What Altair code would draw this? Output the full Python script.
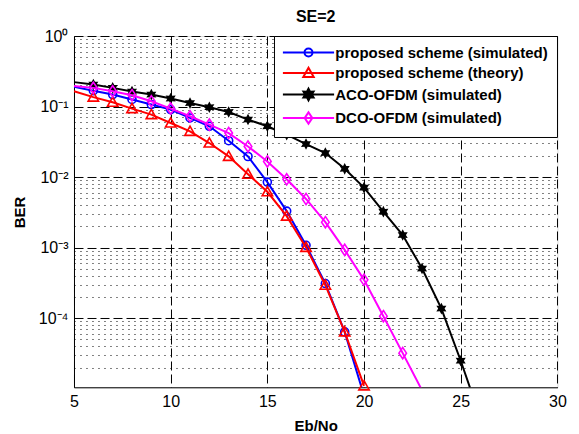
import altair as alt
import pandas as pd
import math

# ---------------- data ----------------
names = ["proposed scheme (simulated)", "proposed scheme (theory)",
         "ACO-OFDM (simulated)", "DCO-OFDM (simulated)"]
colors = ["#0000ff", "#ff0000", "#000000", "#ff00ff"]

x_prop = [5, 6, 7, 8, 9, 10, 11, 12, 13, 14, 15, 16, 17, 18, 19, 20]
ber_prop_sim = [0.19, 0.168, 0.148, 0.126, 0.107, 0.0906, 0.069, 0.0525, 0.0328,
                0.0196, 0.0085, 0.0033, 0.00108, 3.1e-4, 6.4e-5, 8e-6]
ber_prop_th = [0.165, 0.136, 0.115, 0.0936, 0.0769, 0.0585, 0.0445, 0.0304, 0.0197,
               0.011, 0.0062, 0.0028, 0.00101, 2.94e-4, 6.4e-5, 1.1e-5]
x_aco = [5, 6, 7, 8, 9, 10, 11, 12, 13, 14, 15, 16, 17, 18, 19, 20, 21, 22, 23, 24, 25, 26]
ber_aco = [0.222, 0.205, 0.184, 0.163, 0.148, 0.130, 0.112, 0.098, 0.0838, 0.0654,
           0.0525, 0.0399, 0.0294, 0.0219, 0.0131, 0.0071, 0.00324, 0.00151,
           5.06e-4, 1.37e-4, 2.5e-5, 4e-6]
x_dco = [5, 6, 7, 8, 9, 10, 11, 12, 13, 14, 15, 16, 17, 18, 19, 20, 21, 22, 23]
ber_dco = [0.195, 0.184, 0.165, 0.145, 0.119, 0.0936, 0.0728, 0.0555, 0.0421, 0.0272,
           0.0167, 0.0093, 0.0049, 0.0023, 9.3e-4, 3.5e-4, 1.07e-4, 3.2e-5, 9.5e-6]

x_ticks = [5, 10, 15, 20, 25, 30]
y_decades = [1e-4, 1e-3, 1e-2, 1e-1, 1e0]
y_minor = [m * 10.0 ** k for k in range(-5, 0) for m in range(2, 10)]
y_min, y_max = 1.05e-5, 1.0

series = [
    (names[0], x_prop, ber_prop_sim),
    (names[1], x_prop, ber_prop_th),
    (names[2], x_aco, ber_aco),
    (names[3], x_dco, ber_dco),
]

# ---------------- marker paths (unit coords) ----------------
circle = "M0,-1A1,1,0,1,1,0,1A1,1,0,1,1,0,-1Z"
triangle = "M0,-1.3L1.3,1L-1.3,1Z"
diamond = "M0,-1.4L0.95,0L0,1.4L-0.95,0Z"
pts = []
for k in range(12):
    r = 1.45 if k % 2 == 0 else 0.8
    a = math.radians(-90 + 30 * k)
    pts.append(f"{r*math.cos(a):.3f},{r*math.sin(a):.3f}")
star = "M" + "L".join(pts) + "Z"
marker_paths = [circle, triangle, star, diamond]
marker_filled = [False, False, True, False]
seg = "M-6.4,0L6.4,0"
legend_paths = [seg + p for p in marker_paths]
legend_fills = ["transparent", "transparent", "#000000", "transparent"]

FONT = "Liberation Sans"

decade_test = ("abs(log(datum.value)/LN10 - round(log(datum.value)/LN10)) < 0.001")
label_expr = (decade_test + " ? (round(log(datum.value)/LN10) == 0 ? '10\u2070' : "
              "'10\u207b' + ['\u2070','\u00b9','\u00b2','\u00b3','\u2074','\u2075']"
              "[-round(log(datum.value)/LN10)]) : ''")

X = alt.X("x:Q", scale=alt.Scale(domain=[5, 30], nice=False),
          axis=alt.Axis(values=x_ticks, title="Eb/No", grid=True,
                        gridDash=[9, 4], gridColor="#000000", gridOpacity=1,
                        ticks=False, tickSize=0, labelPadding=6, labelFlush=False,
                        labelFontSize=16, labelFont=FONT, labelColor="#000000",
                        titleFont=FONT, titleFontSize=15, titleFontWeight="bold",
                        titleX=241.7, titleY=38, titleBaseline="middle",
                        titleColor="#000000", domainColor="#000000"))
Y = alt.Y("ber:Q", scale=alt.Scale(type="log", domain=[y_min, y_max], nice=False),
          axis=alt.Axis(values=y_minor + y_decades, title="BER", grid=True,
                        gridDash={"condition": {"test": decade_test, "value": [9, 4]},
                                  "value": [1, 5]},
                        gridColor="#000000", gridOpacity=1,
                        ticks=False, tickSize=0, labelPadding=6, labelFlush=False,
                        labelOverlap=False, labelExpr=label_expr,
                        labelFontSize=16, labelFont=FONT, labelColor="#000000",
                        titleFont=FONT, titleFontSize=15, titleFontWeight="bold",
                        titleX=-54, titleY=176, titleBaseline="middle",
                        titleColor="#000000", domainColor="#000000"))

layers = []
for i, (name, xs, ys) in enumerate(series):
    df = pd.DataFrame({"x": xs, "ber": ys, "series": name})
    line = alt.Chart(df).mark_line(color=colors[i], strokeWidth=2, clip=True).encode(x=X, y=Y)
    pnt = (alt.Chart(df)
           .transform_filter(f"datum.x > 5 && datum.ber >= {y_min}")
           .mark_point(shape=marker_paths[i], size=64, color=colors[i],
                       filled=marker_filled[i], strokeWidth=1.6, opacity=1)
           .encode(x=X, y=Y))
    layers += [line, pnt]

leg_df = pd.DataFrame({"series": names})
leg_props = dict(title=None, orient="top-right", offset=0, padding=9,
                 fillColor="#ffffff", strokeColor="#000000",
                 labelFont=FONT, labelFontSize=15, labelFontWeight="bold",
                 labelColor="#000000", labelLimit=400, symbolSize=64,
                 symbolStrokeWidth=2, rowPadding=2.5, labelOffset=19.3, symbolOffset=18)
legend_layer = (alt.Chart(leg_df).transform_filter("false")
                .mark_point(size=64, opacity=1, strokeWidth=2)
                .encode(shape=alt.Shape("series:N",
                                        scale=alt.Scale(domain=names, range=legend_paths),
                                        legend=alt.Legend(**leg_props)),
                        stroke=alt.Stroke("series:N",
                                          scale=alt.Scale(domain=names, range=colors),
                                          legend=alt.Legend(**leg_props)),
                        fill=alt.Fill("series:N",
                                      scale=alt.Scale(domain=names, range=legend_fills),
                                      legend=alt.Legend(**leg_props))))
layers.append(legend_layer)

chart = (alt.layer(*layers)
         .properties(width=483.4, height=351.3,
                     title=alt.TitleParams("SE=2", font=FONT, fontSize=16,
                                           fontWeight="bold", color="#000000",
                                           offset=3),
                     autosize=alt.AutoSizeParams(type="none"),
                     padding={"left": 66, "top": 28, "right": 13, "bottom": 47})
         .configure_view(stroke="#000000", strokeWidth=1)
         .configure(background="#ffffff"))

chart.save("out.html", embed_options={"renderer": "svg", "actions": False})
